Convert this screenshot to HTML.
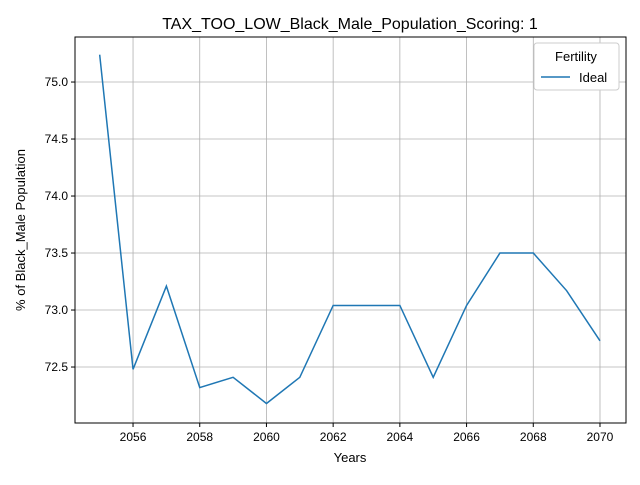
<!DOCTYPE html>
<html><head><meta charset="utf-8"><style>
body{margin:0;background:#fff}
svg{font-family:"Liberation Sans","DejaVu Sans",sans-serif}
</style></head><body>
<svg id="chart" width="640" height="480" viewBox="0 0 640 480">
<rect width="640" height="480" fill="#fff"/>
<text x="350" y="29" font-size="16" text-anchor="middle">TAX_TOO_LOW_Black_Male_Population_Scoring: 1</text>
<g id="grid"></g>
<g id="ticks"></g>
<g id="series"></g>
<rect x="75" y="37" width="551" height="386" fill="none" stroke="#000" stroke-width="1"/>
<text x="350" y="462" font-size="13" text-anchor="middle">Years</text>
<text x="0" y="0" font-size="13" text-anchor="middle" transform="translate(25,230) rotate(-90)">% of Black_Male Population</text>
<g>
<rect x="534" y="43" width="85" height="47" rx="3" fill="#fff" stroke="#ccc"/>
<text x="576" y="61" font-size="13" text-anchor="middle">Fertility</text>
<line x1="541" y1="77" x2="570" y2="77" stroke="#1f77b4" stroke-width="1.5"/>
<text x="579" y="82" font-size="13">Ideal</text>
</g>
</svg>
<script>
const years=[2055,2056,2057,2058,2059,2060,2061,2062,2063,2064,2065,2066,2067,2068,2069,2070];
const idealValues=[75.24,72.48,73.21,72.32,72.41,72.18,72.41,73.04,73.04,73.04,72.41,73.04,73.5,73.5,73.17,72.73];
const xTicks=[2056,2058,2060,2062,2064,2066,2068,2070];
const yTicks=[72.5,73.0,73.5,74.0,74.5,75.0];
const xMin=2054.26,xMax=2070.78,yMin=72.009,yMax=75.395;
const L=75,R=626,T=37,B=423;
const xs=v=>L+(v-xMin)/(xMax-xMin)*(R-L);
const ys=v=>B-(v-yMin)/(yMax-yMin)*(B-T);
const NS="http://www.w3.org/2000/svg";
const grid=document.getElementById('grid'),ticks=document.getElementById('ticks'),series=document.getElementById('series');
function mk(tag,attrs,parent){const e=document.createElementNS(NS,tag);for(const k in attrs)e.setAttribute(k,attrs[k]);parent.appendChild(e);return e;}
xTicks.forEach(t=>{const x=xs(t);
const g=mk('line',{x1:x,x2:x,y1:T,y2:B,stroke:'#b0b0b0','stroke-width':0.8},grid);


const tk=mk('line',{x1:x,x2:x,y1:B,y2:B+4,stroke:'#000'},ticks);


const tx=mk('text',{x:x,y:B+18,'font-size':12,'text-anchor':'middle'},ticks);tx.textContent=t;


});
yTicks.forEach(t=>{const y=ys(t);
const g=mk('line',{x1:L,x2:R,y1:y,y2:y,stroke:'#b0b0b0','stroke-width':0.8},grid);


const tk=mk('line',{x1:L-4,x2:L,y1:y,y2:y,stroke:'#000'},ticks);


const tx=mk('text',{x:L-7,y:y+4,'font-size':12,'text-anchor':'end'},ticks);tx.textContent=t.toFixed(1);


});
const pts=years.map((yr,i)=>xs(yr)+','+ys(idealValues[i])).join(' ');
const pl=mk('polyline',{points:pts,fill:'none',stroke:'#1f77b4','stroke-width':1.5},series);


</script>
</body></html>
